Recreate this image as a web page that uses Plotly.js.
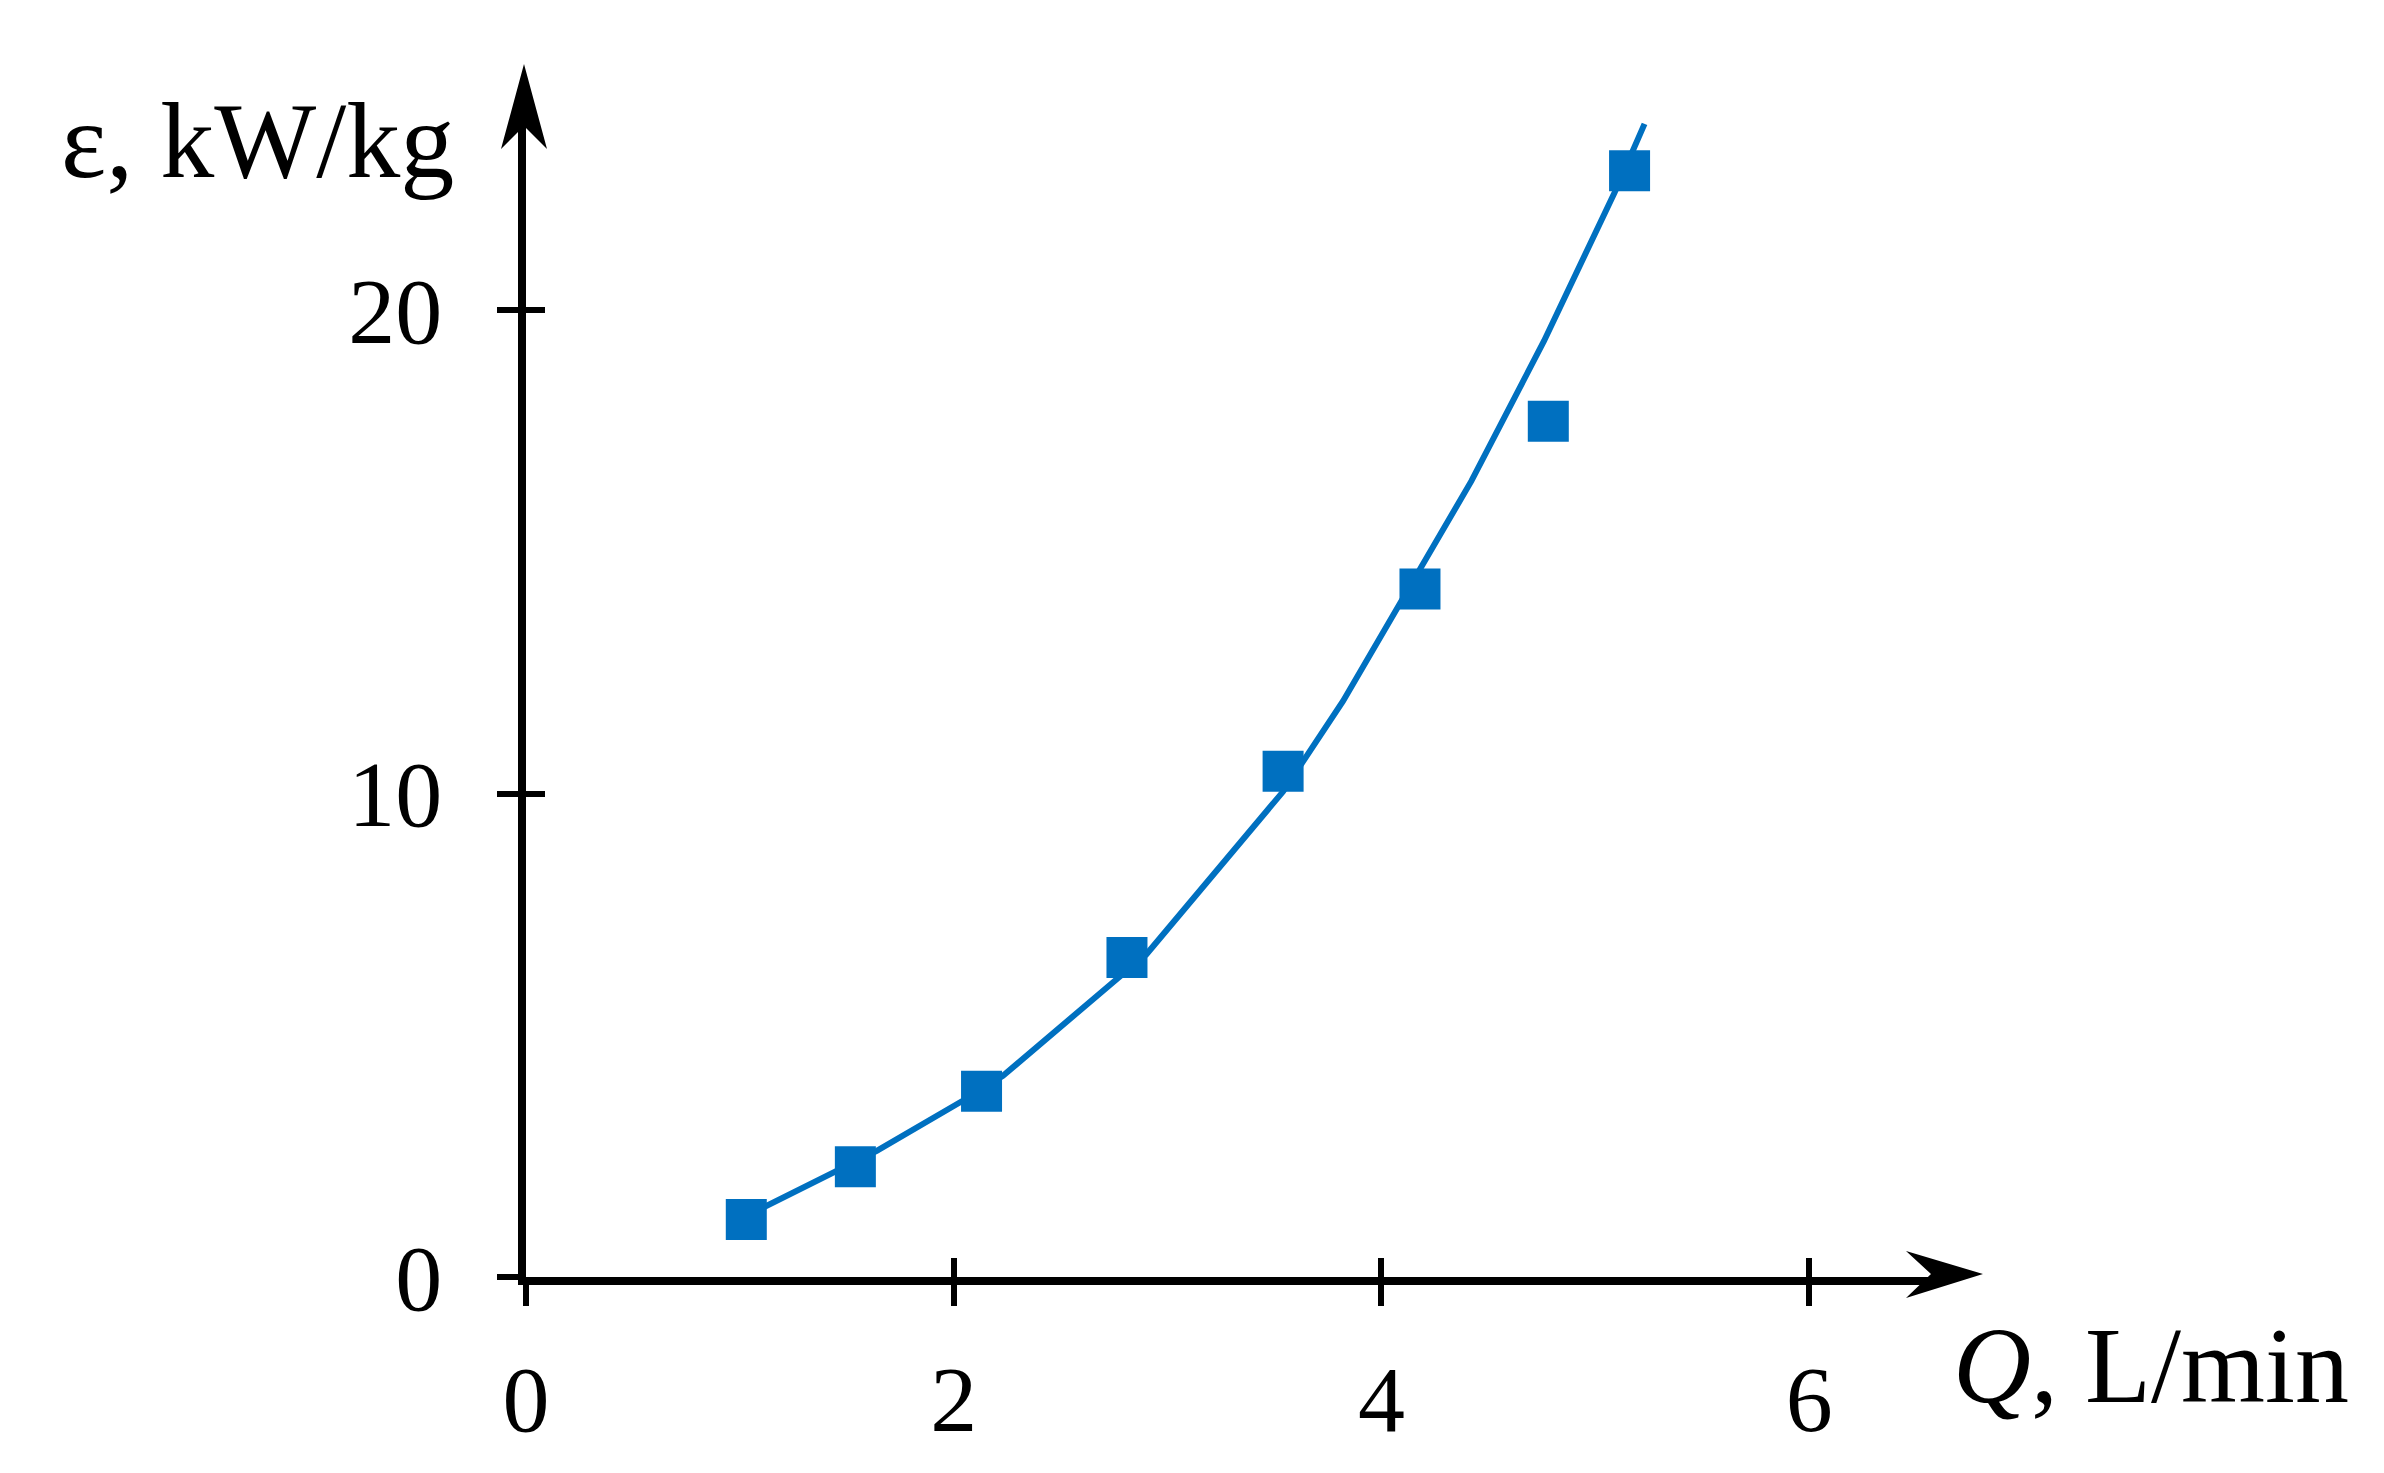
<!DOCTYPE html>
<html>
<head>
<meta charset="utf-8">
<script src="https://cdn.plot.ly/plotly-3.0.1.min.js"></script>
<style>
  html, body { margin: 0; padding: 0; background: #ffffff; }
  #chart { width: 2384px; height: 1473px; }
</style>
</head>
<body>
<div id="chart"></div>
<script>
// Measured data points (Q in L/min, epsilon in kW/kg)
const flowQ = [1.03, 1.54, 2.13, 2.81, 3.54, 4.18, 4.78, 5.16];
const epsilon = [1.19, 2.28, 3.84, 6.61, 10.46, 14.23, 17.70, 22.88];

// Fitted curve
const fitQ = [1.03, 1.45, 1.64, 2.04, 2.23, 2.77, 2.90, 3.54, 3.63, 3.82, 4.42, 4.76, 5.09, 5.23];
const fitEps = [1.26, 2.18, 2.61, 3.64, 4.16, 6.19, 6.67, 10.04, 10.64, 11.91, 16.46, 19.36, 22.43, 23.85];

// Tick labels
const xTicks = [0, 2, 4, 6];
const yTicks = [0, 10, 20];

const xTitle = '<i>Q</i>, L/min';
const yTitle = 'ε, kW/kg';

const W = 2384, H = 1473;
const M = { l: 526, r: 436, t: 110, b: 196 };
const plotW = W - M.l - M.r, plotH = H - M.t - M.b;
const xRange = [0, plotW / 213.87];
const yRange = [0, plotH / 48.35];

const blue = '#0070C0';
const serif = 'Liberation Serif, Times New Roman, serif';

// pixel -> paper helpers for decorations (arrows, titles)
const px = (x) => (x - M.l) / plotW;
const py = (y) => (H - M.b - y) / plotH;

function arrowPath(pts) {
  return 'M' + pts.map(p => px(p[0]) + ',' + py(p[1])).join(' L') + ' Z';
}

const traces = [
  {
    x: fitQ, y: fitEps, type: 'scatter', mode: 'lines',
    line: { color: blue, width: 6 },
    xaxis: 'x', yaxis: 'y', hoverinfo: 'skip', showlegend: false
  },
  {
    x: flowQ, y: epsilon, type: 'scatter', mode: 'markers',
    marker: { symbol: 'square', size: 41, color: blue, line: { width: 0 } },
    xaxis: 'x2', yaxis: 'y2', cliponaxis: false, showlegend: false
  }
];

const axBase = {
  showgrid: false, zeroline: false, fixedrange: true,
};

const layout = {
  width: W, height: H,
  margin: M,
  paper_bgcolor: '#ffffff', plot_bgcolor: '#ffffff',
  showlegend: false,
  font: { family: serif, color: '#000000' },
  xaxis: Object.assign({}, axBase, {
    range: xRange, tickvals: xTicks, ticktext: xTicks.map(String),
    showline: true, linecolor: '#000', linewidth: 8,
    ticks: 'outside', ticklen: 21, tickwidth: 6, tickcolor: '#000',
    ticklabelstandoff: 12,
    tickfont: { family: serif, size: 94, color: '#000' }
  }),
  yaxis: Object.assign({}, axBase, {
    range: yRange, tickvals: yTicks, ticktext: yTicks.map(String),
    showline: true, linecolor: '#000', linewidth: 8,
    ticks: 'outside', ticklen: 21, tickwidth: 6, tickcolor: '#000',
    ticklabelstandoff: 36,
    tickfont: { family: serif, size: 94, color: '#000' }
  }),
  xaxis2: Object.assign({}, axBase, {
    range: xRange, overlaying: 'x', anchor: 'y2', side: 'bottom',
    tickvals: xTicks, ticks: 'inside', ticklen: 19, tickwidth: 6, tickcolor: '#000',
    showticklabels: false, showline: false
  }),
  yaxis2: Object.assign({}, axBase, {
    range: yRange, overlaying: 'y', anchor: 'x2', side: 'left',
    tickvals: yTicks, ticks: 'inside', ticklen: 19, tickwidth: 6, tickcolor: '#000',
    showticklabels: false, showline: false
  }),
  shapes: [
    { type: 'path', xref: 'paper', yref: 'paper', fillcolor: '#000', line: { width: 0 },
      path: arrowPath([[524, 64], [547, 149], [524, 126], [501, 149]]) },
    { type: 'path', xref: 'paper', yref: 'paper', fillcolor: '#000', line: { width: 0 },
      path: arrowPath([[1983, 1274], [1906, 1298], [1931, 1274], [1906, 1251]]) }
  ],
  annotations: [
    { text: yTitle, xref: 'paper', yref: 'paper', x: px(257), y: py(141),
      xanchor: 'center', yanchor: 'middle', showarrow: false,
      font: { family: serif, size: 108, color: '#000' } },
    { text: xTitle, xref: 'paper', yref: 'paper', x: px(2151), y: py(1365),
      xanchor: 'center', yanchor: 'middle', showarrow: false,
      font: { family: serif, size: 108, color: '#000' } }
  ]
};

Plotly.newPlot('chart', traces, layout, { staticPlot: true, displayModeBar: false });
</script>
</body>
</html>
